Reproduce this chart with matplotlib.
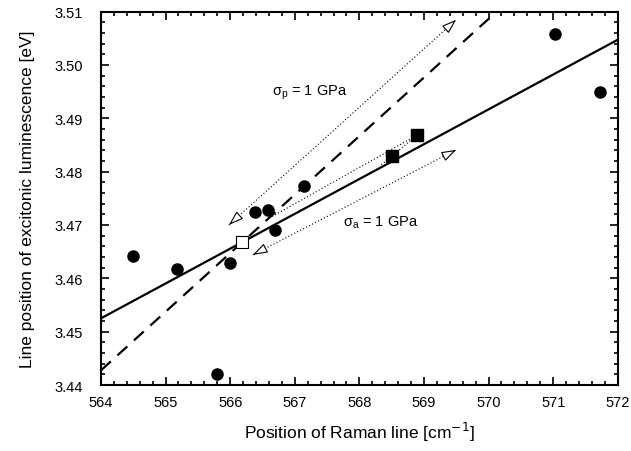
import matplotlib
matplotlib.use("Agg")
import matplotlib.pyplot as plt
from matplotlib.ticker import MultipleLocator

plt.rcParams['font.family'] = ['Liberation Sans', 'DejaVu Sans']

# measured points (filled circles)
raman_x = [564.49, 565.18, 565.79, 566.00, 566.39, 566.59, 566.69, 567.15, 571.03, 571.73]
lumi_y = [3.4642, 3.4617, 3.4420, 3.4628, 3.4724, 3.4729, 3.4691, 3.4773, 3.5058, 3.4949]

# stressed samples (filled squares) and reference (open square)
sq_x = [568.51, 568.90]
sq_y = [3.4830, 3.4869]
ref_x = 566.19
ref_y = 3.4668

# fit lines, both through the reference point
slope_solid = 0.00653
slope_dashed = 0.01098
x_range = [564.0, 572.0]

# stress arrows (start x, start y, end x, end y)
arrow_p = [565.98, 3.4700, 569.50, 3.5085]
arrow_a = [566.35, 3.4644, 569.50, 3.4841]
# dotted shift lines towards the squares
shift_1 = [566.65, 3.4716, 568.90, 3.4869]
shift_2 = [568.34, 3.4813, 568.90, 3.4869]

fig = plt.figure(figsize=(6.31, 4.52), dpi=100)
ax = fig.add_axes([0.160, 0.146, 0.819, 0.826])

# fit lines
ys = [ref_y + slope_solid * (x - ref_x) for x in x_range]
ax.plot(x_range, ys, color='black', lw=1.6, zorder=3)
yd = [ref_y + slope_dashed * (x - ref_x) for x in x_range]
ax.plot(x_range, yd, color='black', lw=1.6, dashes=(6, 4), zorder=3)

# dotted lines
for s in [shift_1, shift_2]:
    ax.plot([s[0], s[2]], [s[1], s[3]], color='black', lw=0.8, ls=(0, (1, 2)), zorder=2)

def head(x0, y0, x1, y1):
    # small open triangle head at (x1, y1) pointing away from (x0, y0)
    fx = x1 - 0.01 * (x1 - x0)
    fy = y1 - 0.01 * (y1 - y0)
    ax.annotate('', xy=(x1, y1), xytext=(fx, fy),
                arrowprops=dict(arrowstyle='-|>,head_length=0.9,head_width=0.3',
                                fc='white', ec='black', lw=0.8, shrinkA=0, shrinkB=0),
                zorder=4)

for a in [arrow_p, arrow_a]:
    ax.plot([a[0], a[2]], [a[1], a[3]], color='black', lw=0.8, ls=(0, (1, 2)), zorder=2)
    head(a[0], a[1], a[2], a[3])
    head(a[2], a[3], a[0], a[1])

# markers
ax.plot(raman_x, lumi_y, 'o', color='black', ms=8, zorder=5)
ax.plot(sq_x, sq_y, 's', color='black', ms=8, zorder=5)
ax.plot([ref_x], [ref_y], 's', mfc='white', mec='black', mew=0.8, ms=8, zorder=6)

# labels inside
ax.text(566.65, 3.4950, r'$\mathregular{\sigma_p}$ = 1 GPa', fontsize=10.5, va='center', ha='left')
ax.text(567.74, 3.4706, r'$\mathregular{\sigma_a}$ = 1 GPa', fontsize=10.5, va='center', ha='left')

ax.set_xlim(564, 572)
ax.set_ylim(3.44, 3.51)
ax.xaxis.set_major_locator(MultipleLocator(1))
ax.xaxis.set_minor_locator(MultipleLocator(0.2))
ax.yaxis.set_major_locator(MultipleLocator(0.01))
ax.yaxis.set_minor_locator(MultipleLocator(0.002))
ax.yaxis.set_major_formatter(plt.FormatStrFormatter('%.2f'))
ax.tick_params(which='both', direction='in', top=True, right=True, width=1.2, labelsize=10.5)
ax.tick_params(which='major', length=6)
ax.tick_params(which='minor', length=3)
ax.tick_params(axis='y', pad=13)
ax.tick_params(axis='x', pad=7)
for sp in ax.spines.values():
    sp.set_linewidth(1.5)

ax.set_xlabel('Position of Raman line [cm$^{-1}$]', fontsize=12.5, labelpad=8)
ax.set_ylabel('Line position of excitonic luminescence [eV]', fontsize=12.5, labelpad=14)

fig.savefig('out.png', dpi=100)
